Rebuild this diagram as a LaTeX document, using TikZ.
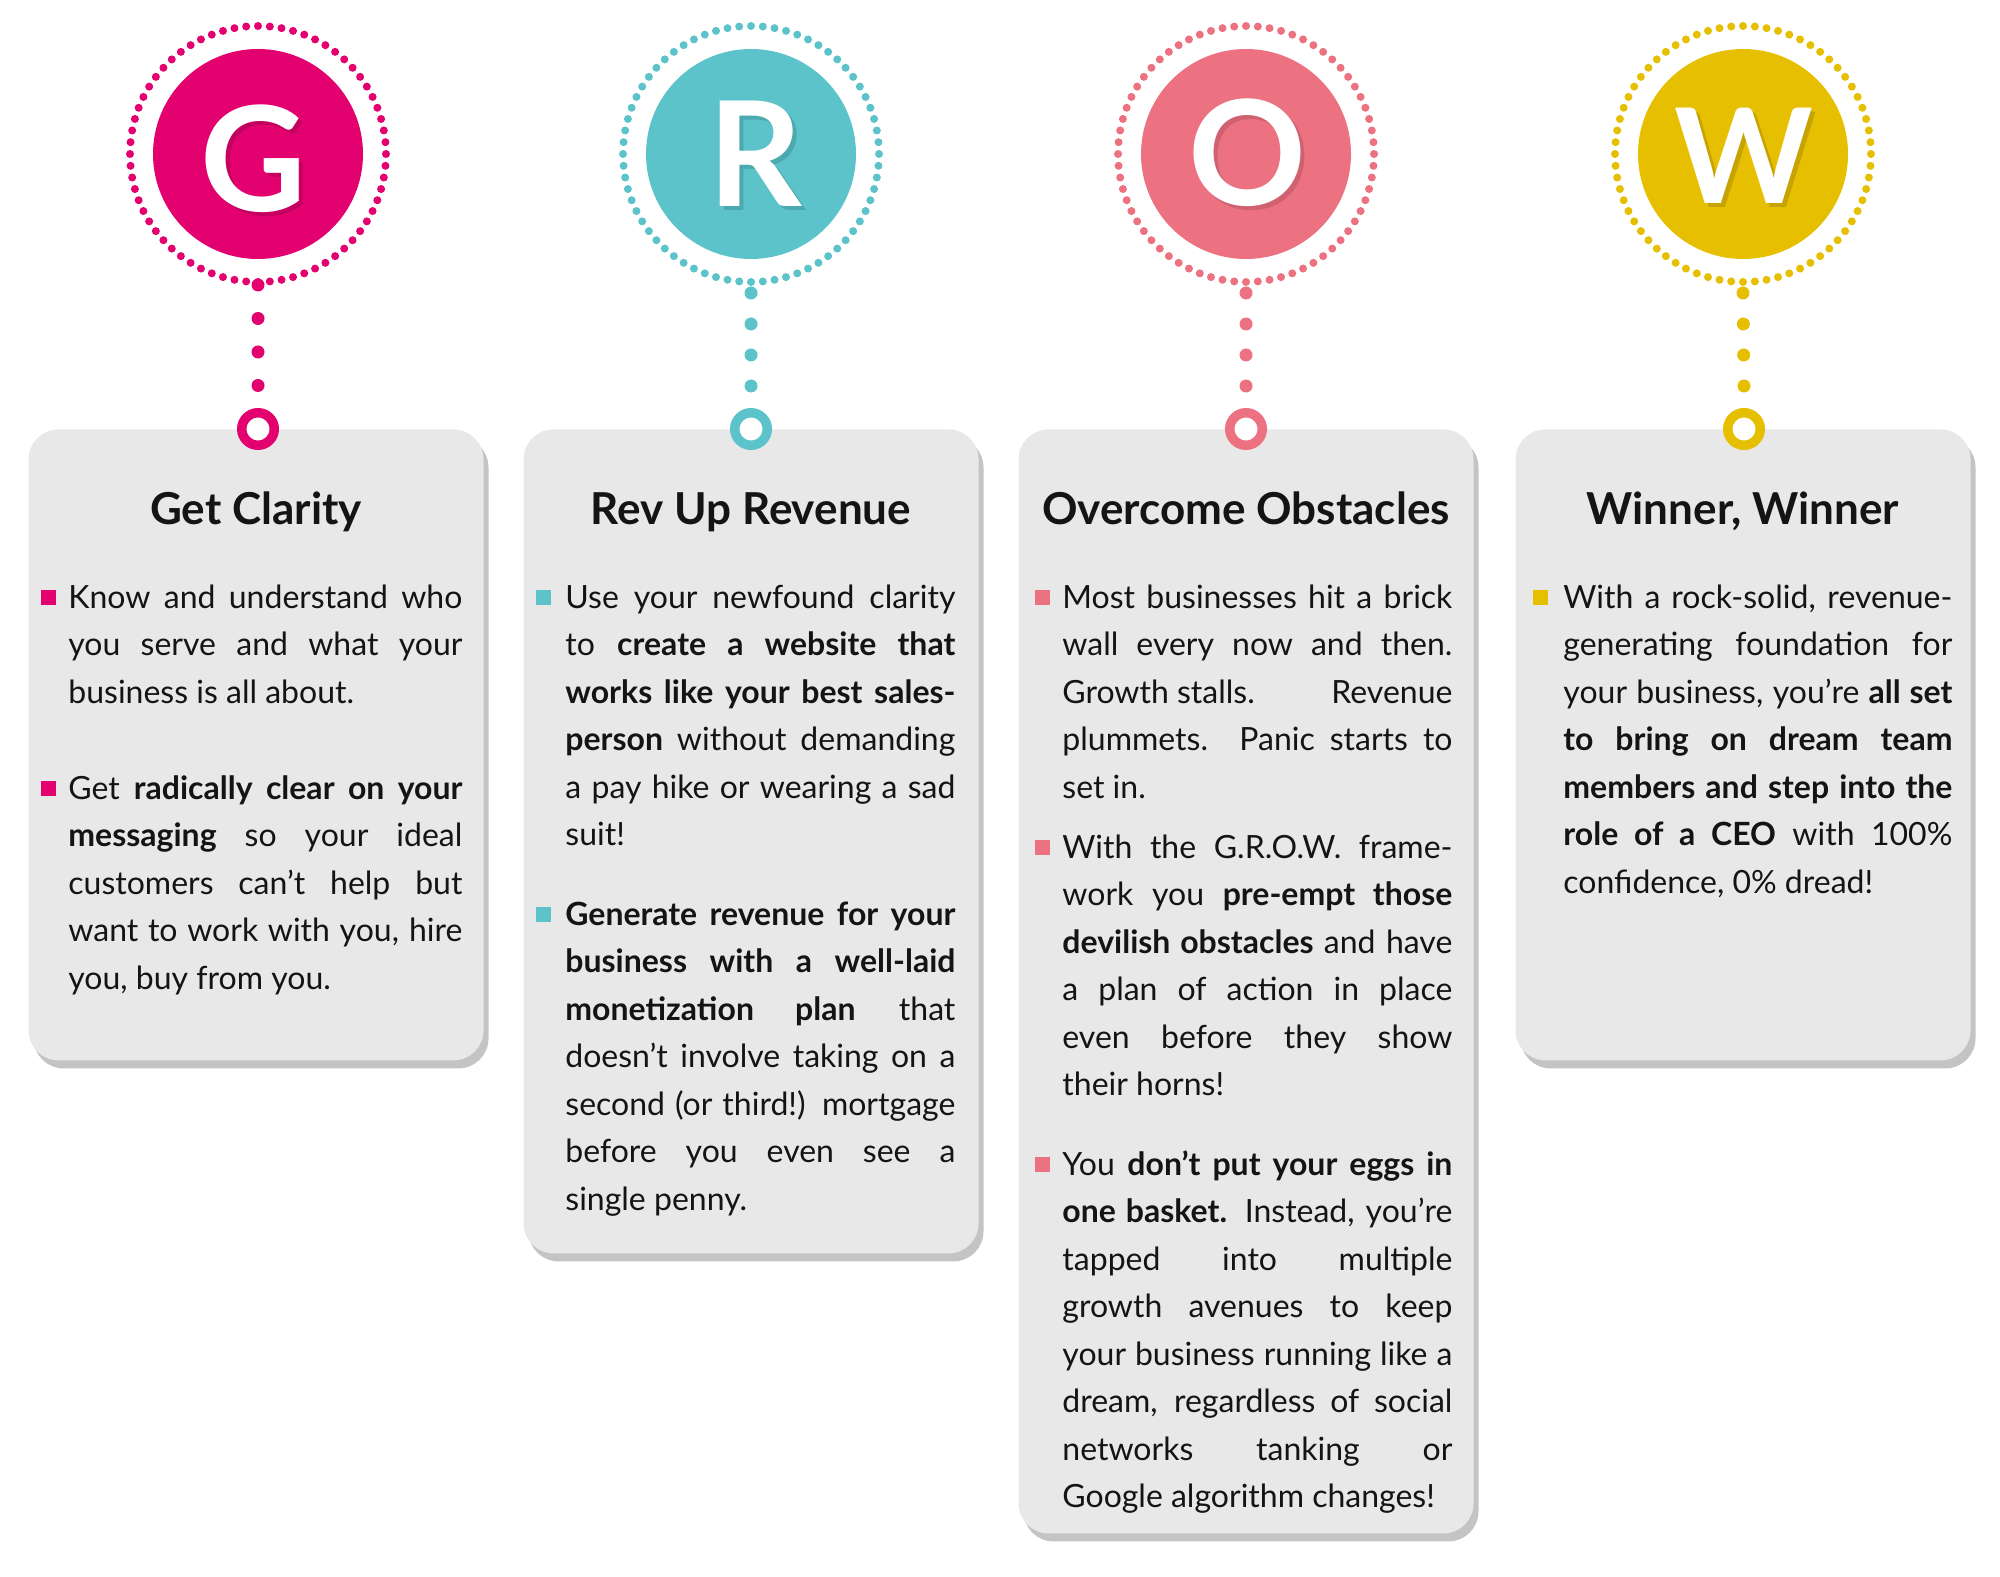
\documentclass[tikz,border=0pt]{standalone}
\usepackage{fontspec}
\setmainfont{Lato}
\usepackage{graphicx}
\definecolor{cG}{HTML}{E3006F}
\definecolor{cGd}{HTML}{C40060}
\definecolor{cR}{HTML}{5BC3C9}
\definecolor{cRd}{HTML}{4BA9AF}
\definecolor{cO}{HTML}{EC7282}
\definecolor{cOd}{HTML}{CF6170}
\definecolor{cW}{HTML}{E5BF00}
\definecolor{cWd}{HTML}{C6A300}
\definecolor{cardc}{HTML}{E8E8E8}
\definecolor{cardsh}{HTML}{C4C4C4}
\definecolor{textc}{HTML}{141414}
\newsavebox\lnbox
\newcommand\jline[1]{\sbox\lnbox{#1}\ifdim\wd\lnbox>\linewidth\resizebox{\linewidth}{\height}{#1}\else\makebox[\linewidth][s]{#1}\fi}
\newcommand\shadowed[2]{\rlap{\kern2pt\raisebox{-2pt}{\color{#1}#2}}\color{white}#2}
\tikzset{
  bigcirc/.style={circle, minimum size=105pt, inner sep=0pt, draw=none},
  letter/.style={anchor=base, inner sep=0pt, font=\fontsize{73}{80}\selectfont\bfseries},
  smallring/.style={circle, minimum size=16.25pt, inner sep=0pt, line width=4.75pt, fill=white},
  dotline/.style={line width=6.5pt, line cap=round},
  card/.style={rectangle, rounded corners=15pt, anchor=north, minimum width=227.5pt, inner sep=0pt, fill=cardc},
  cardshadow/.style={card, fill=cardsh, xshift=2.5pt, yshift=-4pt},
  title/.style={anchor=base, inner sep=0pt, text=textc, font=\fontsize{22}{26}\selectfont\bfseries},
  bulletsq/.style={rectangle, minimum size=7.5pt, inner sep=0pt},
  para/.style={anchor=base west, inner sep=0pt, text=textc, font=\fontsize{16}{23.75}\selectfont},
}
\begin{document}
\begin{tikzpicture}[x=0.5pt,y=-0.5pt]
\useasboundingbox (0,0) rectangle (2000,1577);
% ---------- cards (drawn first)
\node[cardshadow, minimum height=315.5pt] (C1s) at (256,429) {};
\node[card, minimum height=315.5pt] (C1) at (256,429) {};
\node[cardshadow, minimum height=412pt] (C2s) at (751,429) {};
\node[card, minimum height=412pt] (C2) at (751,429) {};
\node[cardshadow, minimum height=552pt] (C3s) at (1246,429) {};
\node[card, minimum height=552pt] (C3) at (1246,429) {};
\node[cardshadow, minimum height=315.5pt] (C4s) at (1743,429) {};
\node[card, minimum height=315.5pt] (C4) at (1743,429) {};
% ---------- big circles
\node[bigcirc, fill=cG] (G) at (258,154) {};
\node[bigcirc, fill=cR] (R) at (751,154) {};
\node[bigcirc, fill=cO] (O) at (1246,154) {};
\node[bigcirc, fill=cW] (W) at (1743,154) {};
\foreach \c/\col in {G/cG,R/cR,O/cO,W/cW}{
  \foreach \i in {0,...,67}{
    \fill[\col] (\c.center) ++({5.294118*\i}:128) circle[radius=4];
  }
}
% letters with shadows
\node[letter] (Gl) at (253.5,212) {\shadowed{cGd}{G}};
\node[letter] (Rl) at (755,207) {\shadowed{cRd}{R}};
\node[letter] (Ol) at (1247,206) {\shadowed{cOd}{O}};
\node[letter, font=\fontsize{66}{72}\selectfont\bfseries] (Wl) at (1743.5,204) {\shadowed{cWd}{W}};
% ---------- small rings
\node[smallring, draw=cG] (Gs) at (258,429) {};
\node[smallring, draw=cR] (Rs) at (751,429) {};
\node[smallring, draw=cO] (Os) at (1246,429) {};
\node[smallring, draw=cW] (Ws) at (1744,429) {};
% ---------- dotted connectors
\draw[dotline, cG, dash pattern=on 0pt off 16.75pt] ([yshift=-65.5pt]G.center) -- ([yshift=20.5pt]Gs.center);
\draw[dotline, cR, dash pattern=on 0pt off 15.5pt] ([yshift=-69.5pt]R.center) -- ([yshift=20.5pt]Rs.center);
\draw[dotline, cO, dash pattern=on 0pt off 15.5pt] ([yshift=-69.5pt]O.center) -- ([yshift=20.5pt]Os.center);
\draw[dotline, cW, dash pattern=on 0pt off 15.5pt] ([yshift=-69.5pt]W.center) -- ([yshift=20.5pt]Ws.center);
% ---------- titles
\node[title] (T1) at (256,524) {Get Clarity};
\node[title] (T2) at (751,524) {Rev Up Revenue};
\node[title] (T3) at (1246,524) {Overcome Obstacles};
\node[title] (T4) at (1743,524) {Winner, Winner};
% ---------- card 1
\node[bulletsq, fill=cG] (B11) at (48.5,597) {};
\node[para] (P11) at (68,608) {\parbox[t]{197pt}{%
\jline{Know and understand who}\\
\jline{you serve and what your}\\
business is all about.}};
\node[bulletsq, fill=cG] (B12) at (48.5,788) {};
\node[para] (P12) at (68,799) {\parbox[t]{197pt}{%
\jline{Get \textbf{radically clear on your}}\\
\jline{\textbf{messaging} so your ideal}\\
\jline{customers can’t help but}\\
\jline{want to work with you, hire}\\
you, buy from you.}};
% ---------- card 2
\node[bulletsq, fill=cR] (B21) at (543.5,597) {};
\node[para] (P21) at (565,608) {\parbox[t]{195pt}{%
\jline{Use your newfound clarity}\\
\jline{to \textbf{create a website that}}\\
\jline{\textbf{works like your best sales-}}\\
\jline{\textbf{person} without demanding}\\
\jline{a pay hike or wearing a sad}\\
suit!}};
\node[bulletsq, fill=cR] (B22) at (543.5,914) {};
\node[para] (P22) at (565,925) {\parbox[t]{195pt}{%
\jline{\textbf{Generate revenue for your}}\\
\jline{\textbf{business with a well-laid}}\\
\jline{\textbf{monetization plan} that}\\
\jline{doesn’t involve taking on a}\\
\jline{second (or third!) mortgage}\\
\jline{before you even see a}\\
single penny.}};
% ---------- card 3
\node[bulletsq, fill=cO] (B31) at (1042.5,597) {};
\node[para] (P31) at (1062,608) {\parbox[t]{195pt}{%
\jline{Most businesses hit a brick}\\
\jline{wall every now and then.}\\
\jline{Growth stalls.\hfill Revenue}\\
\jline{plummets. Panic starts to}\\
set in.}};
\node[bulletsq, fill=cO] (B32) at (1042.5,847) {};
\node[para] (P32) at (1062,858) {\parbox[t]{195pt}{%
\jline{With the G.R.O.W. frame-}\\
\jline{work you \textbf{pre-empt those}}\\
\jline{\textbf{devilish obstacles} and have}\\
\jline{a plan of action in place}\\
\jline{even before they show}\\
their horns!}};
\node[bulletsq, fill=cO] (B33) at (1042.5,1164) {};
\node[para] (P33) at (1062,1175) {\parbox[t]{195pt}{%
\jline{You \textbf{don’t put your eggs in}}\\
\jline{\textbf{one basket.} Instead, you’re}\\
\jline{tapped into multiple}\\
\jline{growth avenues to keep}\\
\jline{your business running like a}\\
\jline{dream, regardless of social}\\
\jline{networks tanking or}\\
Google algorithm changes!}};
% ---------- card 4
\node[bulletsq, fill=cW] (B41) at (1540.5,597) {};
\node[para] (P41) at (1563,608) {\parbox[t]{194.5pt}{%
\jline{With a rock-solid, revenue-}\\
\jline{generating foundation for}\\
\jline{your business, you’re \textbf{all set}}\\
\jline{\textbf{to bring on dream team}}\\
\jline{\textbf{members and step into the}}\\
\jline{\textbf{role of a CEO} with 100\%}\\
confidence, 0\% dread!}};
\end{tikzpicture}
\end{document}
